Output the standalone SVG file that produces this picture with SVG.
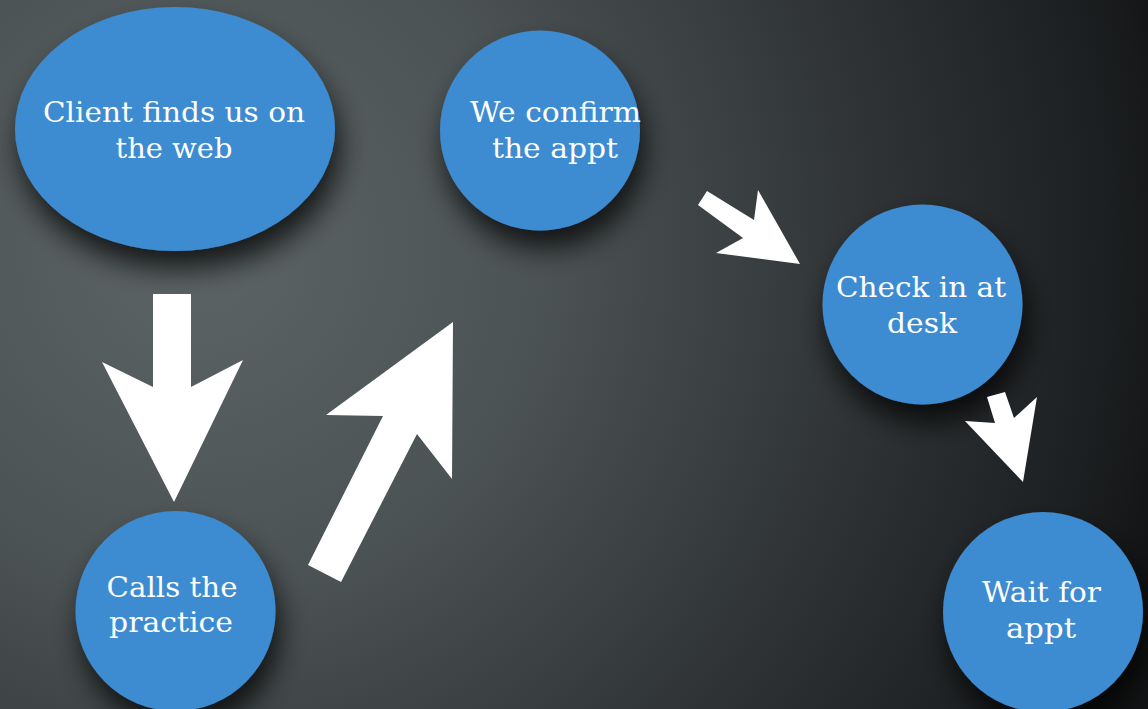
<svg xmlns="http://www.w3.org/2000/svg" width="1148" height="709" viewBox="0 0 1148 709">
  <defs>
    <radialGradient id="bg" gradientUnits="userSpaceOnUse" cx="200" cy="250" r="1000">
      <stop offset="0" stop-color="#5c6466"/>
      <stop offset="0.35" stop-color="#4b5254"/>
      <stop offset="0.65" stop-color="#313537"/>
      <stop offset="0.9" stop-color="#1d2022"/>
      <stop offset="1" stop-color="#121314"/>
    </radialGradient>
    <filter id="shadow" x="-40%" y="-40%" width="180%" height="190%">
      <feDropShadow dx="5" dy="18" stdDeviation="14" flood-color="#000" flood-opacity="0.75"/>
    </filter>
    <style>
      .node { fill: #3e8bd1; filter: url(#shadow); }
      .label { fill: #ffffff; font-family: "DejaVu Serif", "Liberation Serif", serif; font-size: 28px; text-anchor: middle; }
      .arrow { fill: #ffffff; }
    </style>
  </defs>
  <rect x="0" y="0" width="1148" height="709" fill="url(#bg)"/>

  <g id="node-client">
    <ellipse class="node" cx="175" cy="129" rx="160" ry="122"/>
    <text class="label" x="174" y="122" textLength="262" lengthAdjust="spacingAndGlyphs">Client finds us on</text>
    <text class="label" x="174" y="158" textLength="117" lengthAdjust="spacingAndGlyphs">the web</text>
  </g>

  <g id="node-calls">
    <circle class="node" cx="175.5" cy="611" r="100"/>
    <text class="label" x="172" y="597" textLength="131" lengthAdjust="spacingAndGlyphs">Calls the</text>
    <text class="label" x="171" y="632" textLength="124" lengthAdjust="spacingAndGlyphs">practice</text>
  </g>

  <g id="node-confirm">
    <circle class="node" cx="540" cy="130.5" r="100"/>
    <text class="label" x="555.5" y="122" textLength="171" lengthAdjust="spacingAndGlyphs">We confirm</text>
    <text class="label" x="555" y="158" textLength="126" lengthAdjust="spacingAndGlyphs">the appt</text>
  </g>

  <g id="node-checkin">
    <circle class="node" cx="922.5" cy="304.5" r="100"/>
    <text class="label" x="921" y="297" textLength="170" lengthAdjust="spacingAndGlyphs">Check in at</text>
    <text class="label" x="922" y="333" textLength="70" lengthAdjust="spacingAndGlyphs">desk</text>
  </g>

  <g id="node-wait">
    <circle class="node" cx="1043" cy="612" r="100"/>
    <text class="label" x="1041.5" y="602" textLength="119" lengthAdjust="spacingAndGlyphs">Wait for</text>
    <text class="label" x="1041" y="638" textLength="70" lengthAdjust="spacingAndGlyphs">appt</text>
  </g>

  <g id="connectors">
    <polygon class="arrow" points="153,294 191,294 191,387 243,360 174,502 102,362 153,387"/>
    <polygon class="arrow" points="453,322 452,479 417,434 341,582 308,565 383,416 326,415"/>
    <polygon class="arrow" points="707,191 754,220 758,190 800,264 716,253 743,238 698,205"/>
    <polygon class="arrow" points="987,397 1005,392 1014,418 1037,397 1023,482 965,421 995,423"/>
  </g>
</svg>
